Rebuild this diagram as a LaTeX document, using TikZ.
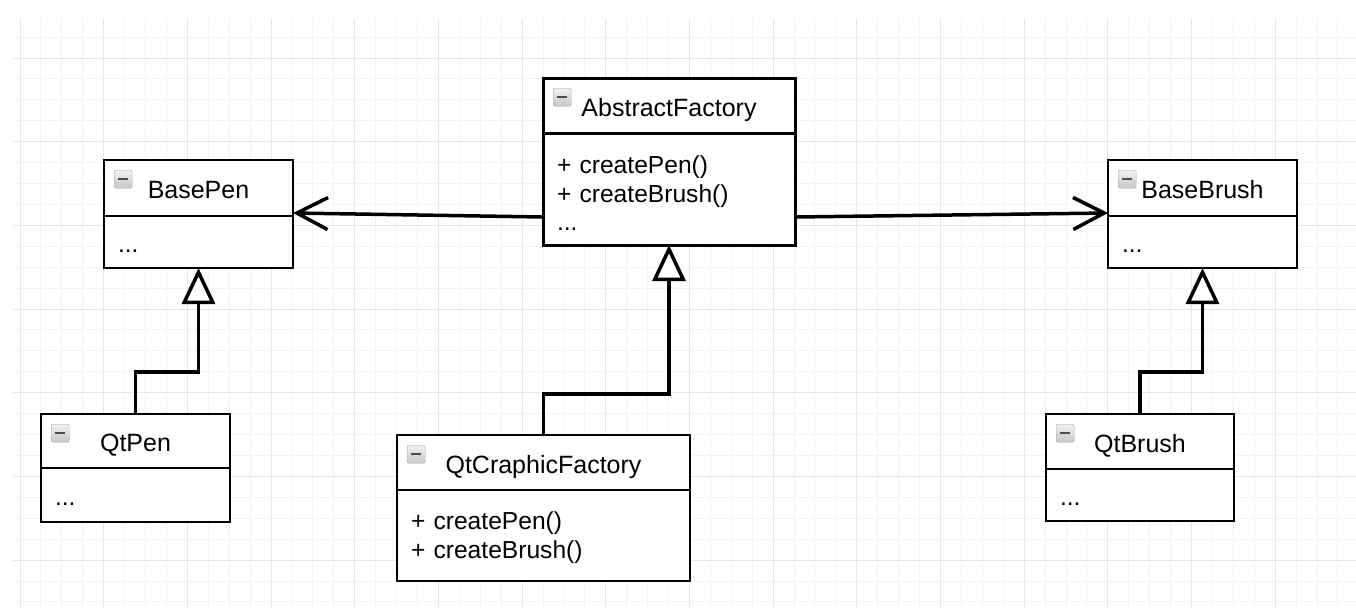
\documentclass[tikz,border=0pt]{standalone}
\usepackage{fontspec}
\setmainfont{Liberation Sans}
\usepackage{xcolor}
\usetikzlibrary{positioning, calc, arrows.meta}

\definecolor{gridminor}{HTML}{F3F3F3}
\definecolor{gridmajor}{HTML}{E6E6E6}

\begin{document}
\begin{tikzpicture}[x=1pt, y=-1pt]
\tikzstyle{head} = [rectangle, draw, line width=2pt, fill=white, anchor=north west, inner sep=0pt, outer sep=0pt, text height=21pt, text depth=0pt, font=\fontsize{25}{29}\selectfont]
\tikzstyle{body} = [rectangle, draw, line width=2pt, fill=white, align=left, inner xsep=14pt, inner ysep=0pt, outer sep=0pt, font=\fontsize{24.6}{28.5}\selectfont]
\tikzstyle{dots} = [text height=20pt, text depth=0pt]
\tikzstyle{icon} = [rectangle, rounded corners=2pt, draw=gray!70, top color=gray!10, bottom color=gray!45, minimum width=18pt, minimum height=18pt, inner sep=0pt, anchor=north west,
  path picture={\draw[line width=2.2pt, black!70] ($(path picture bounding box.west)+(4,0)$) -- ($(path picture bounding box.east)+(-4,0)$);}]
\tikzstyle{assoc} = [line width=3.5pt, -{Straight Barb[length=31pt, width=32pt]}]
\tikzstyle{inherit} = [line width=3.5pt, -{Triangle[length=36pt, width=33pt, fill=white]}]

\useasboundingbox (0,0) rectangle (1356,608);

% grid
\foreach \x in {20,40.92,...,1356} \draw[gridminor, line width=1pt] (\x,19) -- (\x,608);
\foreach \y in {37.08,58,...,608} \draw[gridminor, line width=1pt] (13,\y) -- (1356,\y);
\foreach \x in {20,103.68,...,1356} \draw[gridmajor, line width=1pt] (\x,19) -- (\x,608);
\foreach \y in {58,141.68,...,608} \draw[gridmajor, line width=1pt] (13,\y) -- (1356,\y);

% classes
\node (af) [head, line width=3pt, minimum width=252pt, minimum height=55pt] at (543,78) {AbstractFactory};
\node (afb) [body, line width=3pt, text width=224pt, minimum height=112pt, below=0pt of af] {\rule{0pt}{26pt}+ createPen()\\+ createBrush()\\...};
\node (af-icon) [icon] at ($(af.north west)+(10,10)$) {};

\node (bp) [head, minimum width=189pt, minimum height=56pt] at (104,160) {BasePen};
\node (bpb) [body, dots, text width=161pt, minimum height=52pt, below=0pt of bp] {...};
\node (bp-icon) [icon] at ($(bp.north west)+(10,10)$) {};

\node (bb) [head, minimum width=189pt, minimum height=56pt] at (1108,160) {BaseBrush};
\node (bbb) [body, dots, text width=161pt, minimum height=52pt, below=0pt of bb] {...};
\node (bb-icon) [icon] at ($(bb.north west)+(10,10)$) {};

\node (qp) [head, minimum width=189pt, minimum height=54pt] at (41,414) {QtPen};
\node (qpb) [body, dots, text width=161pt, minimum height=54pt, below=0pt of qp] {...};
\node (qp-icon) [icon] at ($(qp.north west)+(10,10)$) {};

\node (qf) [head, minimum width=293pt, minimum height=55pt] at (397,435) {QtCraphicFactory};
\node (qfb) [body, text width=265pt, minimum height=91pt, below=0pt of qf] {\rule{0pt}{22pt}+ createPen()\\+ createBrush()};
\node (qf-icon) [icon] at ($(qf.north west)+(10,10)$) {};

\node (qb) [head, minimum width=188pt, minimum height=55pt] at (1046,414) {QtBrush};
\node (qbb) [body, dots, text width=160pt, minimum height=52pt, below=0pt of qb] {...};
\node (qb-icon) [icon] at ($(qb.north west)+(10,10)$) {};

% connectors
\draw [assoc] ($(afb.south west)+(0,-28)$) -- ($(bpb.north east)+(0,-3)$);
\draw [assoc] ($(afb.south east)+(0,-28)$) -- ($(bbb.north west)+(0,-3)$);
\draw [inherit] (qf.north) -- ++(0,-41) -| (afb.south);
\draw [inherit] (qp.north) -- ++(0,-42) -| (bpb.south);
\draw [inherit] (qb.north) -- ++(0,-42) -| (bbb.south);

\end{tikzpicture}
\end{document}
